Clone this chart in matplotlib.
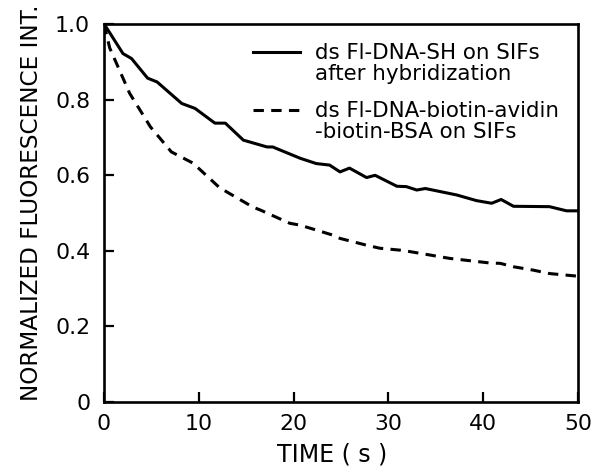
import matplotlib
matplotlib.use("Agg")
import matplotlib.pyplot as plt
from matplotlib.lines import Line2D

plt.rcParams['font.family'] = ['DejaVu Sans']

# Time (s) and normalized intensity
t_solid = [0, 0.3, 2.0, 2.9, 4.6, 5.6, 8.2, 9.6, 11.7, 12.8, 14.7, 17.2, 17.8,
           20.7, 22.4, 23.8, 24.9, 25.9, 27.7, 28.6, 30.9, 31.9, 33.0, 33.9,
           37.2, 39.3, 40.9, 41.9, 43.2, 47.0, 48.8, 50]
y_solid = [1.0, 0.989, 0.922, 0.909, 0.857, 0.847, 0.790, 0.777, 0.738, 0.738,
           0.693, 0.675, 0.675, 0.645, 0.631, 0.627, 0.609, 0.619, 0.594, 0.600,
           0.571, 0.570, 0.561, 0.565, 0.548, 0.533, 0.526, 0.536, 0.518, 0.517,
           0.506, 0.506]

t_dash = [0, 0.6, 2.7, 4.9, 7.1, 9.4, 12.2, 15.7, 16.5, 19.6, 20.7, 24.1, 24.9,
          27.7, 29.1, 31.2, 32.3, 36.5, 40.7, 41.8, 43.2, 45.3, 47.0, 50]
y_dash = [1.0, 0.937, 0.817, 0.728, 0.662, 0.632, 0.567, 0.516, 0.508, 0.473,
          0.468, 0.442, 0.433, 0.415, 0.407, 0.402, 0.398, 0.380, 0.368, 0.367,
          0.358, 0.349, 0.340, 0.333]

label_solid = ["ds Fl-DNA-SH on SIFs", "after hybridization"]
label_dash = ["ds Fl-DNA-biotin-avidin", "-biotin-BSA on SIFs"]

x_ticks = [0, 10, 20, 30, 40, 50]
y_ticks = [0, 0.2, 0.4, 0.6, 0.8, 1.0]
y_ticklabels = ["0", "0.2", "0.4", "0.6", "0.8", "1.0"]

fig = plt.figure(figsize=(6.02, 4.73), dpi=100)
ax = fig.add_axes([0.1728, 0.150, 0.7872, 0.799])

lw = 2.2
dash = (3.4, 2.4)
ax.plot(t_solid, y_solid, color='black', lw=lw, solid_joinstyle='round')
ax.plot(t_dash, y_dash, color='black', lw=lw, dashes=dash)

ax.set_xlim(0, 50)
ax.set_ylim(0, 1.0)
ax.set_xticks(x_ticks)
ax.set_yticks(y_ticks)
ax.set_yticklabels(y_ticklabels)
for s in ax.spines.values():
    s.set_linewidth(1.9)
ax.tick_params(direction='in', length=7, width=1.6, labelsize=15.8,
               top=False, right=False)
ax.tick_params(axis='x', pad=8.5)
ax.tick_params(axis='y', pad=10)

ax.set_xlabel("TIME ( s )", fontsize=17)
ax.set_ylabel("NORMALIZED FLUORESCENCE INT.", fontsize=16.7)
ax.xaxis.set_label_coords(0.481, -0.106)
ax.yaxis.set_label_coords(-0.129, 0.528)

h_solid = Line2D([], [], color='black', lw=lw)
h_dash = Line2D([], [], color='black', lw=lw, dashes=dash)
h_none = Line2D([], [], color='none')

common = dict(loc='upper left', frameon=False, fontsize=15.4,
              handlelength=2.2, handletextpad=0.68, labelspacing=0.02,
              borderaxespad=0, borderpad=0)
leg1 = ax.legend([h_solid, h_none], label_solid,
                 bbox_to_anchor=(0.3143, 0.949), **common)
ax.add_artist(leg1)
ax.legend([h_dash, h_none], label_dash,
          bbox_to_anchor=(0.3143, 0.796), **common)

fig.savefig("out.png", dpi=100)
